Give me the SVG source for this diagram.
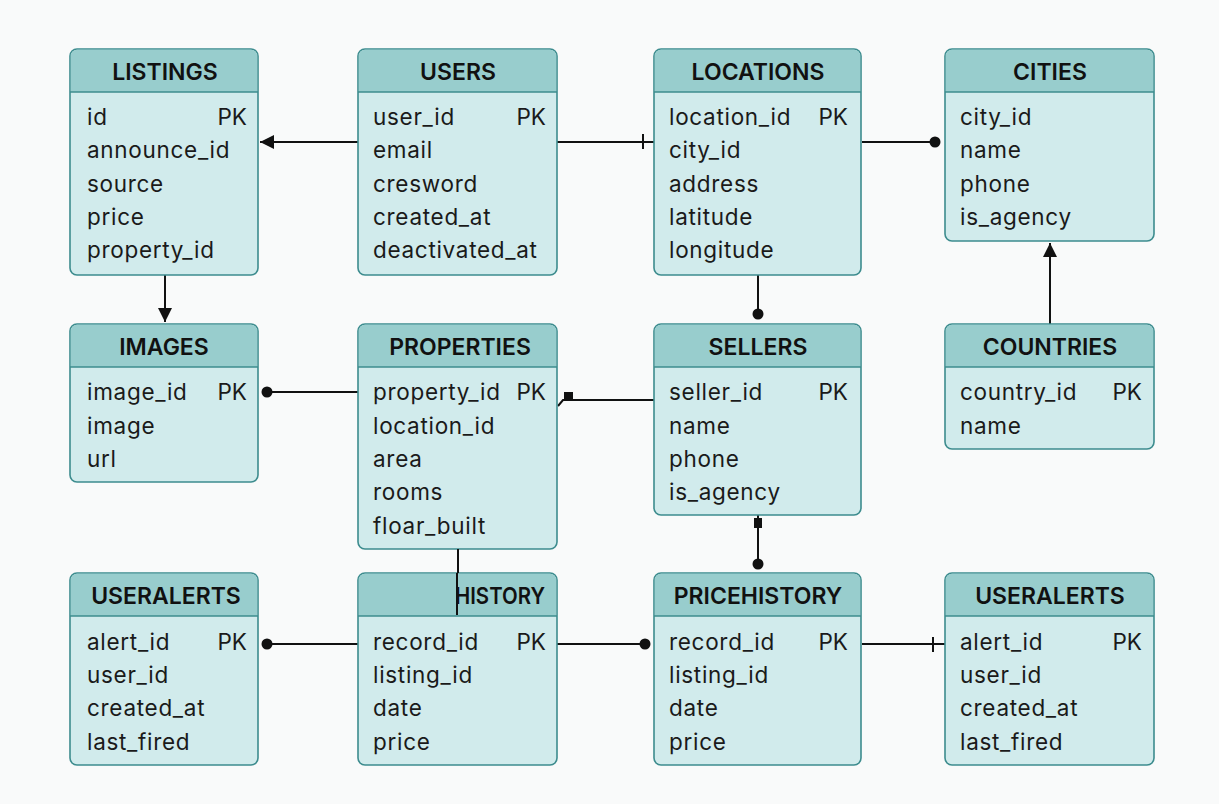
<svg xmlns="http://www.w3.org/2000/svg" width="1219" height="804" viewBox="0 0 1219 804">
<style>
.box{fill:#d1ebec;stroke:#3d8c8e;stroke-width:1.6}
.hdr{fill:#98cdcd}
.sep{stroke:#3d8c8e;stroke-width:1.6}
.t{font-family:Inter,"Liberation Sans",sans-serif;font-size:22.5px;letter-spacing:0.7px;fill:#1a1a1a}
.h{font-family:Inter,"Liberation Sans",sans-serif;font-size:23px;font-weight:600;fill:#111;text-anchor:middle}
.pk{text-anchor:end;letter-spacing:0}
.c{stroke:#111;stroke-width:2;fill:none}
.dot{fill:#111}
</style>
<defs>
<marker id="arr" viewBox="0 0 10 10" refX="10" refY="5" markerWidth="14" markerHeight="14" markerUnits="userSpaceOnUse" orient="auto"><path d="M0,0 L10,5 L0,10 Z" fill="#111"/></marker>
</defs>
<rect width="1219" height="804" fill="#f9fafa"/>

<g id="connectors">
<path class="c" d="M358,142 L260,142" marker-end="url(#arr)"/>
<path class="c" d="M557,142 L654,142 M643,134 L643,149"/>
<path class="c" d="M862,142 L935,142"/><circle class="dot" cx="935" cy="142" r="5.5"/>
<path class="c" d="M165,275 L165,322" marker-end="url(#arr)"/>
<path class="c" d="M758,275 L758,314"/><circle class="dot" cx="758" cy="314" r="5.5"/>
<path class="c" d="M1050,324 L1050,243" marker-end="url(#arr)"/>
<path class="c" d="M358,392 L267,392"/><circle class="dot" cx="267" cy="392" r="5.5"/>
<path class="c" d="M558,406 L563,400 L654,400"/><rect class="dot" x="564" y="392" width="9" height="8"/>
<path class="c" d="M758,515 L758,564"/><rect class="dot" x="754" y="518" width="8" height="10"/><circle class="dot" cx="758" cy="564" r="5.5"/>
<path class="c" d="M358,644 L267,644"/><circle class="dot" cx="267" cy="644" r="5.5"/>
<path class="c" d="M557,644 L645,644"/><circle class="dot" cx="645" cy="644" r="5.5"/>
<path class="c" d="M862,644 L945,644 M933,637 L933,652"/>
</g>

<g id="listings">
<rect class="box" x="70" y="49" width="188" height="226" rx="7"/>
<path class="hdr" d="M70.8,92 V56 a6.2,6.2 0 0 1 6.2,-6.2 H251 a6.2,6.2 0 0 1 6.2,6.2 V92 Z"/>
<line class="sep" x1="70" y1="92" x2="258" y2="92"/>
<text class="h" x="165" y="80">LISTINGS</text>
<text class="t" x="87" y="125">id</text><text class="t pk" x="247" y="125">PK</text>
<text class="t" x="87" y="158">announce_id</text>
<text class="t" x="87" y="191.5">source</text>
<text class="t" x="87" y="225">price</text>
<text class="t" x="87" y="258">property_id</text>
</g>

<g id="users">
<rect class="box" x="358" y="49" width="199" height="226" rx="7"/>
<path class="hdr" d="M358.8,92 V56 a6.2,6.2 0 0 1 6.2,-6.2 H550 a6.2,6.2 0 0 1 6.2,6.2 V92 Z"/>
<line class="sep" x1="358" y1="92" x2="557" y2="92"/>
<text class="h" x="458" y="80">USERS</text>
<text class="t" x="373" y="125">user_id</text><text class="t pk" x="546" y="125">PK</text>
<text class="t" x="373" y="158">email</text>
<text class="t" x="373" y="191.5">cresword</text>
<text class="t" x="373" y="225">created_at</text>
<text class="t" x="373" y="258">deactivated_at</text>
</g>

<g id="locations">
<rect class="box" x="654" y="49" width="207" height="226" rx="7"/>
<path class="hdr" d="M654.8,92 V56 a6.2,6.2 0 0 1 6.2,-6.2 H854 a6.2,6.2 0 0 1 6.2,6.2 V92 Z"/>
<line class="sep" x1="654" y1="92" x2="861" y2="92"/>
<text class="h" x="758" y="80">LOCATIONS</text>
<text class="t" x="669" y="125">location_id</text><text class="t pk" x="848" y="125">PK</text>
<text class="t" x="669" y="158">city_id</text>
<text class="t" x="669" y="191.5">address</text>
<text class="t" x="669" y="225">latitude</text>
<text class="t" x="669" y="258">longitude</text>
</g>

<g id="cities">
<rect class="box" x="945" y="49" width="209" height="192" rx="7"/>
<path class="hdr" d="M945.8,92 V56 a6.2,6.2 0 0 1 6.2,-6.2 H1147 a6.2,6.2 0 0 1 6.2,6.2 V92 Z"/>
<line class="sep" x1="945" y1="92" x2="1154" y2="92"/>
<text class="h" x="1050" y="80">CITIES</text>
<text class="t" x="960" y="125">city_id</text>
<text class="t" x="960" y="158">name</text>
<text class="t" x="960" y="191.5">phone</text>
<text class="t" x="960" y="225">is_agency</text>
</g>

<g id="images">
<rect class="box" x="70" y="324" width="188" height="158" rx="7"/>
<path class="hdr" d="M70.8,367 V331 a6.2,6.2 0 0 1 6.2,-6.2 H251 a6.2,6.2 0 0 1 6.2,6.2 V367 Z"/>
<line class="sep" x1="70" y1="367" x2="258" y2="367"/>
<text class="h" x="164" y="355">IMAGES</text>
<text class="t" x="87" y="400">image_id</text><text class="t pk" x="247" y="400">PK</text>
<text class="t" x="87" y="433.5">image</text>
<text class="t" x="87" y="467">url</text>
</g>

<g id="properties">
<rect class="box" x="358" y="324" width="199" height="225" rx="7"/>
<path class="hdr" d="M358.8,367 V331 a6.2,6.2 0 0 1 6.2,-6.2 H550 a6.2,6.2 0 0 1 6.2,6.2 V367 Z"/>
<line class="sep" x1="358" y1="367" x2="557" y2="367"/>
<text class="h" x="460" y="355">PROPERTIES</text>
<text class="t" x="373" y="400">property_id</text><text class="t pk" x="546" y="400">PK</text>
<text class="t" x="373" y="433.5">location_id</text>
<text class="t" x="373" y="467">area</text>
<text class="t" x="373" y="500">rooms</text>
<text class="t" x="373" y="533.5">floar_built</text>
</g>

<g id="sellers">
<rect class="box" x="654" y="324" width="207" height="191" rx="7"/>
<path class="hdr" d="M654.8,367 V331 a6.2,6.2 0 0 1 6.2,-6.2 H854 a6.2,6.2 0 0 1 6.2,6.2 V367 Z"/>
<line class="sep" x1="654" y1="367" x2="861" y2="367"/>
<text class="h" x="758" y="355">SELLERS</text>
<text class="t" x="669" y="400">seller_id</text><text class="t pk" x="848" y="400">PK</text>
<text class="t" x="669" y="433.5">name</text>
<text class="t" x="669" y="467">phone</text>
<text class="t" x="669" y="500">is_agency</text>
</g>

<g id="countries">
<rect class="box" x="945" y="324" width="209" height="125" rx="7"/>
<path class="hdr" d="M945.8,367 V331 a6.2,6.2 0 0 1 6.2,-6.2 H1147 a6.2,6.2 0 0 1 6.2,6.2 V367 Z"/>
<line class="sep" x1="945" y1="367" x2="1154" y2="367"/>
<text class="h" x="1050" y="355">COUNTRIES</text>
<text class="t" x="960" y="400">country_id</text><text class="t pk" x="1142" y="400">PK</text>
<text class="t" x="960" y="433.5">name</text>
</g>

<g id="useralerts-left">
<rect class="box" x="70" y="573" width="188" height="192" rx="7"/>
<path class="hdr" d="M70.8,616 V580 a6.2,6.2 0 0 1 6.2,-6.2 H251 a6.2,6.2 0 0 1 6.2,6.2 V616 Z"/>
<line class="sep" x1="70" y1="616" x2="258" y2="616"/>
<text class="h" x="166" y="604">USERALERTS</text>
<text class="t" x="87" y="650">alert_id</text><text class="t pk" x="247" y="650">PK</text>
<text class="t" x="87" y="683">user_id</text>
<text class="t" x="87" y="716">created_at</text>
<text class="t" x="87" y="749.5">last_fired</text>
</g>

<g id="history">
<rect class="box" x="358" y="573" width="199" height="192" rx="7"/>
<path class="hdr" d="M358.8,616 V580 a6.2,6.2 0 0 1 6.2,-6.2 H550 a6.2,6.2 0 0 1 6.2,6.2 V616 Z"/>
<line class="sep" x1="358" y1="616" x2="557" y2="616"/>
<text class="h" x="455" y="604" style="text-anchor:start" textLength="90" lengthAdjust="spacingAndGlyphs">HISTORY</text>
<text class="t" x="373" y="650">record_id</text><text class="t pk" x="546" y="650">PK</text>
<text class="t" x="373" y="683">listing_id</text>
<text class="t" x="373" y="716">date</text>
<text class="t" x="373" y="749.5">price</text>
</g>

<g id="pricehistory">
<rect class="box" x="654" y="573" width="207" height="192" rx="7"/>
<path class="hdr" d="M654.8,616 V580 a6.2,6.2 0 0 1 6.2,-6.2 H854 a6.2,6.2 0 0 1 6.2,6.2 V616 Z"/>
<line class="sep" x1="654" y1="616" x2="861" y2="616"/>
<text class="h" x="758" y="604">PRICEHISTORY</text>
<text class="t" x="669" y="650">record_id</text><text class="t pk" x="848" y="650">PK</text>
<text class="t" x="669" y="683">listing_id</text>
<text class="t" x="669" y="716">date</text>
<text class="t" x="669" y="749.5">price</text>
</g>

<g id="useralerts-right">
<rect class="box" x="945" y="573" width="209" height="192" rx="7"/>
<path class="hdr" d="M945.8,616 V580 a6.2,6.2 0 0 1 6.2,-6.2 H1147 a6.2,6.2 0 0 1 6.2,6.2 V616 Z"/>
<line class="sep" x1="945" y1="616" x2="1154" y2="616"/>
<text class="h" x="1050" y="604">USERALERTS</text>
<text class="t" x="960" y="650">alert_id</text><text class="t pk" x="1142" y="650">PK</text>
<text class="t" x="960" y="683">user_id</text>
<text class="t" x="960" y="716">created_at</text>
<text class="t" x="960" y="749.5">last_fired</text>
</g>

<g id="connector-overlay">
<path class="c" d="M458,549 L458,573 M457,573 L457,615"/>
</g>
</svg>
